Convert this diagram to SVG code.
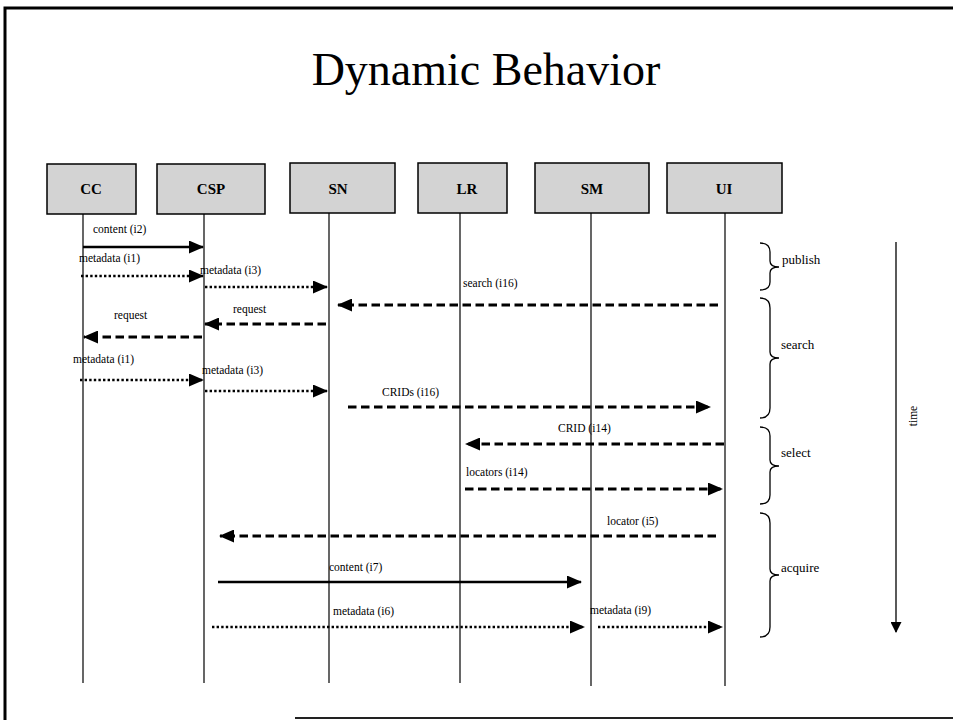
<svg xmlns="http://www.w3.org/2000/svg" width="953" height="720" viewBox="0 0 953 720">
<defs>
<marker id="ah" markerUnits="userSpaceOnUse" markerWidth="15" markerHeight="13" refX="14" refY="6.5" orient="auto">
<path d="M0,0 L15,6.5 L0,13 z" fill="#000"/>
</marker>
<marker id="ahs" markerUnits="userSpaceOnUse" markerWidth="11" markerHeight="11" refX="10" refY="5.5" orient="auto">
<path d="M0,0 L11,5.5 L0,11 z" fill="#000"/>
</marker>
</defs>
<style>
.box{fill:#d3d3d3;stroke:#000;stroke-width:1.5}
.nl{font-family:"Liberation Serif",serif;font-weight:bold;font-size:15px;text-anchor:middle;fill:#000}
.life{stroke:#000;stroke-width:1.2}
.ml{font-family:"Liberation Serif",serif;font-size:11.5px;fill:#000}
.solid{stroke:#000;stroke-width:2.6;fill:none}
.dot{stroke:#000;stroke-width:2.6;stroke-dasharray:2.4 2.2;fill:none}
.dash{stroke:#000;stroke-width:3;stroke-dasharray:8.5 4.5;fill:none}
.brace{stroke:#000;stroke-width:1.3;fill:none}
.bl{font-family:"Liberation Serif",serif;font-size:13px;fill:#000}
</style>
<rect width="953" height="720" fill="#fff"/>
<g id="frame">
<path d="M5,720 L5,8 L953,8" fill="none" stroke="#000" stroke-width="3"/>
<line x1="295" y1="718" x2="953" y2="718" stroke="#222" stroke-width="2"/>
</g>
<text x="486" y="85" font-family="'Liberation Serif',serif" font-size="46" text-anchor="middle" fill="#000">Dynamic Behavior</text>
<g id="node-CC"><rect class="box" x="47" y="164" width="89" height="50"/><text class="nl" x="91" y="194">CC</text><line class="life" x1="83" y1="214" x2="83" y2="683"/></g>
<g id="node-CSP"><rect class="box" x="157" y="164" width="108" height="50"/><text class="nl" x="211" y="194">CSP</text><line class="life" x1="204" y1="214" x2="204" y2="683"/></g>
<g id="node-SN"><rect class="box" x="290" y="163" width="105" height="50"/><text class="nl" x="338" y="194">SN</text><line class="life" x1="329" y1="213" x2="329" y2="683"/></g>
<g id="node-LR"><rect class="box" x="418" y="163" width="89" height="50"/><text class="nl" x="467" y="194">LR</text><line class="life" x1="460" y1="213" x2="460" y2="683"/></g>
<g id="node-SM"><rect class="box" x="535" y="163" width="114" height="50"/><text class="nl" x="592" y="194">SM</text><line class="life" x1="591" y1="213" x2="591" y2="686"/></g>
<g id="node-UI"><rect class="box" x="667" y="163" width="115" height="50"/><text class="nl" x="724" y="194">UI</text><line class="life" x1="725" y1="213" x2="725" y2="686"/></g>
<g id="connectors">
<line class="solid" x1="83" y1="247" x2="203" y2="247" marker-end="url(#ah)"/>
<line class="dot" x1="81" y1="276" x2="203" y2="276" marker-end="url(#ah)"/>
<line class="dot" x1="205" y1="287" x2="327" y2="287" marker-end="url(#ah)"/>
<line class="dash" x1="718" y1="305" x2="338" y2="305" marker-end="url(#ah)"/>
<line class="dash" x1="326" y1="324" x2="205" y2="324" marker-end="url(#ah)"/>
<line class="dash" x1="202" y1="337" x2="84" y2="337" marker-end="url(#ah)"/>
<line class="dot" x1="80" y1="380" x2="203" y2="380" marker-end="url(#ah)"/>
<line class="dot" x1="205" y1="391" x2="327" y2="391" marker-end="url(#ah)"/>
<line class="dash" x1="348" y1="407" x2="710" y2="407" marker-end="url(#ah)"/>
<line class="dash" x1="724" y1="444" x2="466" y2="444" marker-end="url(#ah)"/>
<line class="dash" x1="465" y1="489" x2="722" y2="489" marker-end="url(#ah)"/>
<line class="dash" x1="716" y1="536" x2="220" y2="536" marker-end="url(#ah)"/>
<line class="solid" x1="218" y1="582" x2="581" y2="582" marker-end="url(#ah)"/>
<line class="dot" x1="212" y1="627" x2="584" y2="627" marker-end="url(#ah)"/>
<line class="dot" x1="598" y1="627" x2="722" y2="627" marker-end="url(#ah)"/>
<line x1="896" y1="242" x2="896" y2="632" stroke="#000" stroke-width="1.3" marker-end="url(#ahs)"/>
</g>
<g id="labels">
<text class="ml" x="93" y="233">content (i2)</text>
<text class="ml" x="79" y="262">metadata (i1)</text>
<text class="ml" x="200" y="274">metadata (i3)</text>
<text class="ml" x="463" y="287">search  (i16)</text>
<text class="ml" x="233" y="313">request</text>
<text class="ml" x="114" y="319">request</text>
<text class="ml" x="73" y="363">metadata (i1)</text>
<text class="ml" x="202" y="374">metadata (i3)</text>
<text class="ml" x="382" y="396">CRIDs  (i16)</text>
<text class="ml" x="558" y="432">CRID (i14)</text>
<text class="ml" x="466" y="476">locators  (i14)</text>
<text class="ml" x="607" y="525">locator  (i5)</text>
<text class="ml" x="329" y="571">content  (i7)</text>
<text class="ml" x="333" y="615">metadata  (i6)</text>
<text class="ml" x="590" y="614">metadata  (i9)</text>
</g>
<g id="brace-publish">
<path class="brace" d="M760,243 Q770,243 770,252 L770,261 Q770,267 779,267 Q770,267 770,273 L770,282 Q770,290 760,290"/>
<text class="bl" x="782" y="264">publish</text>
</g>
<g id="brace-search">
<path class="brace" d="M760,298 Q770,298 770,308 L770,352 Q770,358 779,358 Q770,358 770,364 L770,408 Q770,418 760,418"/>
<text class="bl" x="781" y="349">search</text>
</g>
<g id="brace-select">
<path class="brace" d="M760,427 Q770,427 770,436 L770,460 Q770,466 779,466 Q770,466 770,472 L770,495 Q770,504 760,504"/>
<text class="bl" x="781" y="457">select</text>
</g>
<g id="brace-acquire">
<path class="brace" d="M760,513 Q770,513 770,523 L770,569 Q770,575 779,575 Q770,575 770,581 L770,627 Q770,637 760,637"/>
<text class="bl" x="781" y="572">acquire</text>
</g>
<text class="ml" transform="translate(917,416) rotate(-90)" text-anchor="middle">time</text>
</svg>
